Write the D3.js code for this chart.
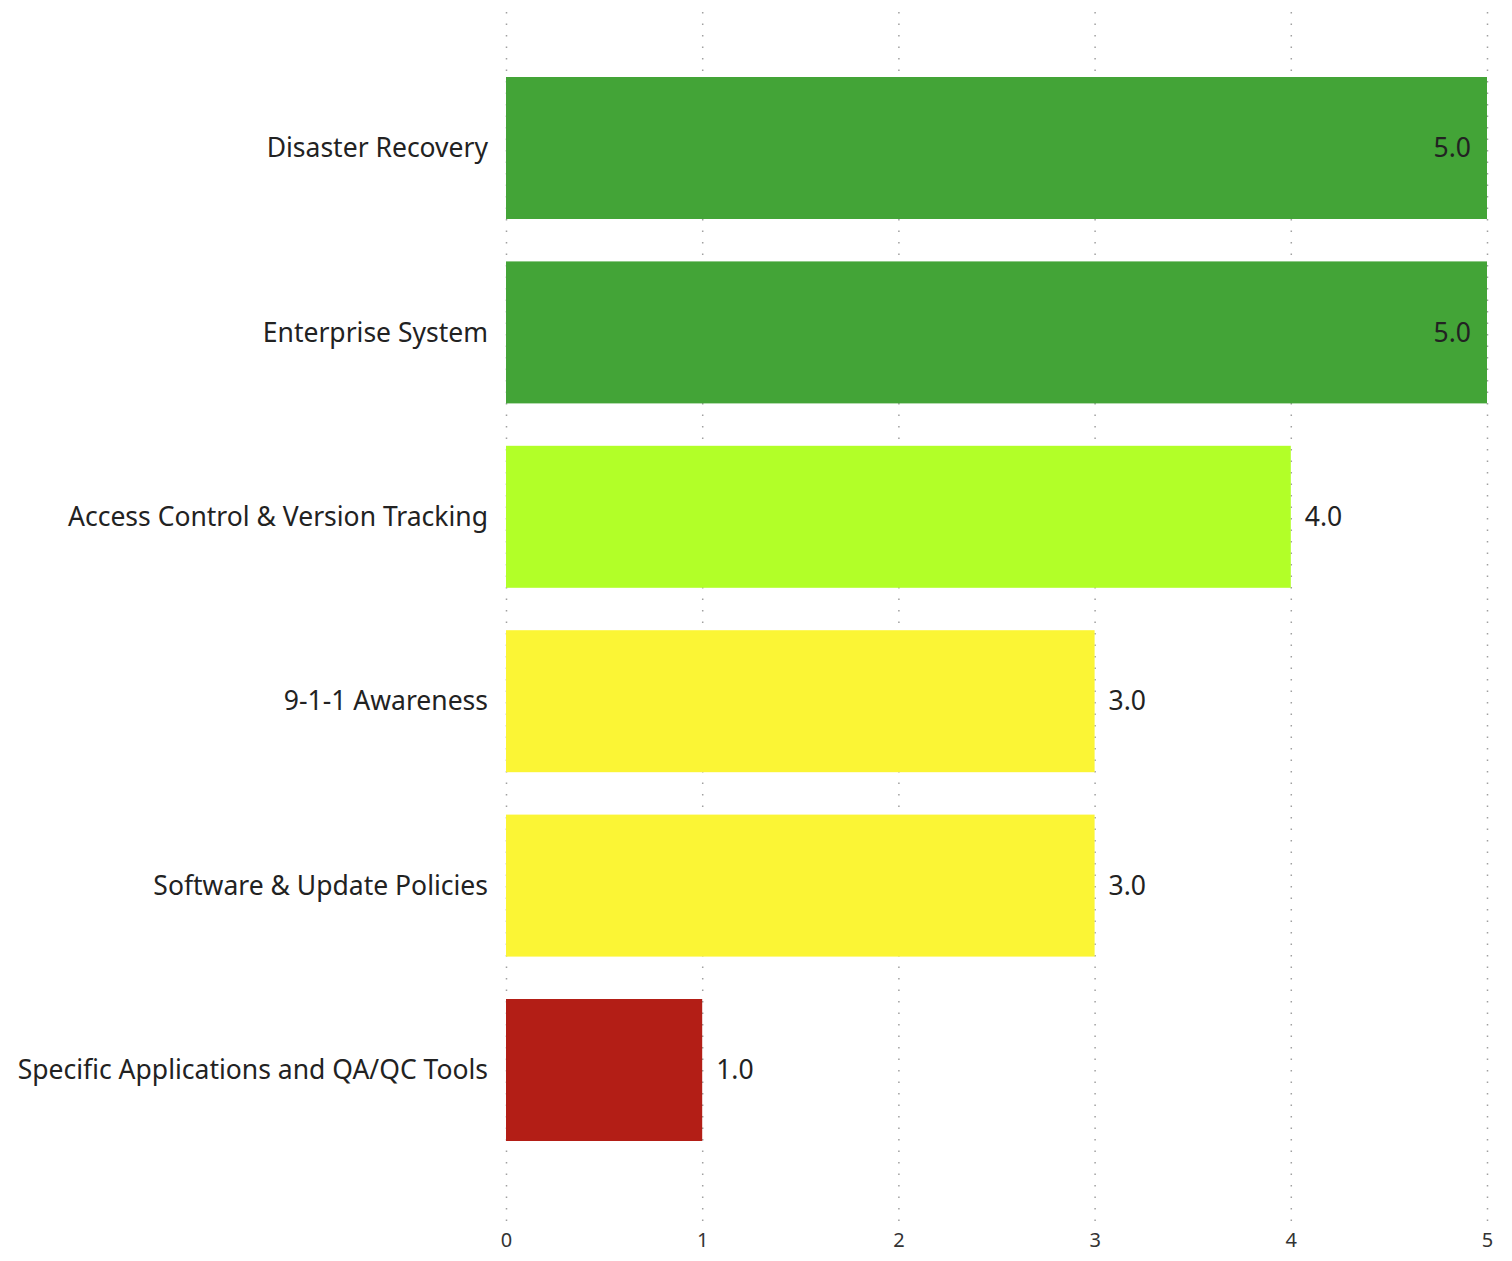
<!DOCTYPE html>
<html>
<head>
	<meta charset="utf-8">
	<script src="https://cdn.jsdelivr.net/npm/d3@7"></script>
	<style>
		body { margin: 0; background: #fff; }
		text { font-family: "Noto Sans", "Open Sans", sans-serif; }
	</style>
</head>
<body>
	<script>
		// data
		var categories = ['Disaster Recovery', 'Enterprise System', 'Access Control & Version Tracking',
			'9-1-1 Awareness', 'Software & Update Policies', 'Specific Applications and QA/QC Tools'];
		var scores = [5, 5, 4, 3, 3, 1];
		var barColors = ['#43a437', '#43a437', '#b2ff28', '#fbf535', '#fbf535', '#b31e16'];
		var tickValues = [0, 1, 2, 3, 4, 5];

		var svgWidth = 1512;
		var svgHeight = 1261;
		var left = 506;
		var right = 1487;

		var svg = d3.select('body').append('svg')
			.attr('width', svgWidth)
			.attr('height', svgHeight);

		var xScale = d3.scaleLinear().domain([0, 5]).range([left, right]);
		var yScale = d3.scaleBand()
			.domain(categories)
			.range([55.8, 1162.2])
			.paddingInner(0.23)
			.paddingOuter(0.115);

		// dotted gridlines behind bars
		svg.append('g').selectAll('line')
			.data(tickValues)
			.enter().append('line')
			.attr('x1', function(d) { return xScale(d) + 0.5; })
			.attr('x2', function(d) { return xScale(d) + 0.5; })
			.attr('y1', 12)
			.attr('y2', 1228)
			.attr('stroke', '#a0a0a0')
			.attr('stroke-width', 1.5)
			.attr('stroke-dasharray', '1.5,10');

		svg.append('g').selectAll('rect')
			.data(scores)
			.enter().append('rect')
			.attr('x', xScale(0))
			.attr('y', function(d, i) { return yScale(categories[i]); })
			.attr('width', function(d) { return xScale(d) - xScale(0); })
			.attr('height', yScale.bandwidth())
			.attr('fill', function(d, i) { return barColors[i]; });

		// category labels
		svg.append('g').selectAll('text')
			.data(categories)
			.enter().append('text')
			.attr('x', 488)
			.attr('y', function(d) { return yScale(d) + yScale.bandwidth() / 2; })
			.attr('dy', '0.35em')
			.attr('text-anchor', 'end')
			.attr('font-size', 26.5)
			.attr('fill', '#222')
			.text(function(d) { return d; });

		// value labels
		svg.append('g').selectAll('text')
			.data(scores)
			.enter().append('text')
			.attr('x', function(d) { return d === 5 ? xScale(d) - 16 : xScale(d) + 14; })
			.attr('y', function(d, i) { return yScale(categories[i]) + yScale.bandwidth() / 2; })
			.attr('dy', '0.35em')
			.attr('text-anchor', function(d) { return d === 5 ? 'end' : 'start'; })
			.attr('font-size', 26.5)
			.attr('fill', '#222')
			.text(function(d) { return d.toFixed(1); });

		// x axis tick labels
		var xAxis = d3.axisBottom(xScale).tickValues(tickValues)
			.tickFormat(d3.format('d')).tickSize(0).tickPadding(0);
		var ax = svg.append('g')
			.attr('transform', 'translate(0,1233)')
			.call(xAxis);
		ax.select('.domain').remove();
		ax.selectAll('text')
			.attr('font-size', 20)
			.attr('fill', '#333')
			.style('font-family', '"Noto Sans", sans-serif');
	</script>
</body>
</html>
